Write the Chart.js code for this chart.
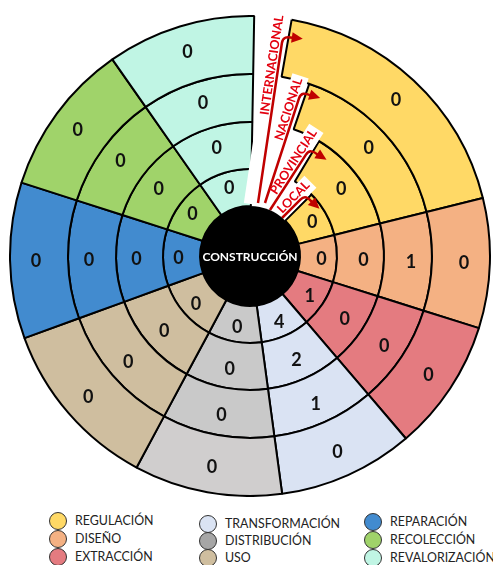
<!DOCTYPE html>
<html>
<head>
<meta charset="utf-8">
<script src="https://cdn.jsdelivr.net/npm/chart.js@4"></script>
<style>
  body { margin: 0; background: #fff; width: 493px; height: 565px; overflow: hidden; position: relative; font-family: Lato, sans-serif; }
  #wrap { position: absolute; left: 9px; top: 15px; width: 482px; height: 482px; }
  .lg { position: absolute; height: 18px; line-height: 18px; font-size: 12.4px; color: #222; white-space: nowrap; }
  .lg i { position: absolute; left: 0; top: 0; width: 18px; height: 18px; box-sizing: border-box; border: 1.5px solid #333; border-radius: 50%; }
  .lg span { position: absolute; left: 26px; top: 0; }
</style>
</head>
<body>
<div id="wrap"><canvas id="c" width="482" height="482"></canvas></div>
<div id="legend"></div>
<script>
// categorias (sectores) y anillos
const categories = ['REGULACIÓN', 'DISEÑO', 'EXTRACCIÓN', 'TRANSFORMACIÓN', 'DISTRIBUCIÓN', 'USO', 'REPARACIÓN', 'RECOLECCIÓN', 'REVALORIZACIÓN'];
const rings = ['LOCAL', 'PROVINCIAL', 'NACIONAL', 'INTERNACIONAL'];
const centerLabel = 'CONSTRUCCIÓN';

// valores por anillo, en el orden de categories
const local         = [0, 0, 1, 4, 0, 0, 0, 0, 0];
const provincial    = [0, 0, 0, 2, 0, 0, 0, 0, 0];
const nacional      = [0, 1, 0, 1, 0, 0, 0, 0, 0];
const internacional = [0, 0, 0, 0, 0, 0, 0, 0, 0];
const values = { LOCAL: local, PROVINCIAL: provincial, NACIONAL: nacional, INTERNACIONAL: internacional };

// colores
const colors = ['#FFD966', '#F4B183', '#E47B80', '#DAE3F3', '#C9C9C9', '#CFBE9F', '#428BCF', '#A0D36A', '#C0F5E4'];
const legendColors = ['#FFD966', '#F4B183', '#E47B80', '#DAE3F3', '#A6A6A6', '#CFBE9F', '#428BCF', '#A0D36A', '#C0F5E4'];

// geometria: fin de cada sector (grados desde arriba, sentido horario), hueco blanco por anillo
const startDeg = 1;
const sectorEnd = [76, 107.5, 139.5, 172.3, 208.2, 250, 287.8, 325, 361];
const gapEnd = { LOCAL: 45, PROVINCIAL: 31, NACIONAL: 19, INTERNACIONAL: 10 };
const ringWidth = { LOCAL: 37, PROVINCIAL: 47, NACIONAL: 48, INTERNACIONAL: 58 };

function spansFor(ring) {
  const out = [gapEnd[ring] - startDeg];
  let prev = gapEnd[ring];
  sectorEnd.forEach(e => { out.push(e - prev); prev = e; });
  return out;
}

// anillo exterior primero
const datasets = rings.slice().reverse().map(ring => {
  const bg = ['rgba(255,255,255,0)'].concat(colors);
  if (ring === 'INTERNACIONAL') bg[5] = '#D0CECE';
  return {
    label: ring,
    data: spansFor(ring),
    weight: ringWidth[ring],
    backgroundColor: bg,
    borderColor: '#000',
    borderWidth: [0].concat(categories.map(() => 2)),
    hoverOffset: 0,
    offset: 0
  };
});

// etiquetas de anillo (flechas rojas)
const ringArrows = [
  { ring: 'INTERNACIONAL', sx: 8,  sy: -53, ang: 8.5, len: 162, t0: 88 },
  { ring: 'NACIONAL',      sx: 15, sy: -53, ang: 18,  len: 110, t0: 64 },
  { ring: 'PROVINCIAL',    sx: 20, sy: -46, ang: 33,  len: 66,  t0: 16 },
  { ring: 'LOCAL',         sx: 32, sy: -38, ang: 45,  len: 26,  t0: 3 }
];

const overlay = {
  id: 'overlay',
  afterDatasetsDraw(chart) {
    const ctx = chart.ctx;
    const meta0 = chart.getDatasetMeta(0);
    const cx = meta0.data[1].x, cy = meta0.data[1].y;

    // numeros de cada celda
    ctx.save();
    ctx.font = 'bold 18px Lato';
    ctx.fillStyle = '#111';
    ctx.textAlign = 'center';
    ctx.textBaseline = 'middle';
    chart.data.datasets.forEach((ds, di) => {
      const meta = chart.getDatasetMeta(di);
      const vals = values[ds.label];
      vals.forEach((v, j) => {
        const arc = meta.data[j + 1];
        const p = arc.getProps(['startAngle', 'endAngle', 'innerRadius', 'outerRadius']);
        const a = (p.startAngle + p.endAngle) / 2;
        const r = (p.innerRadius + p.outerRadius) / 2 + 3;
        ctx.fillText(String(v), cx + r * Math.cos(a), cy + r * Math.sin(a) + 1);
      });
    });
    ctx.restore();

    // tiras blancas
    ctx.save();
    ctx.font = 'bold 12.5px Lato';
    ringArrows.forEach(l => {
      const tw = ctx.measureText(l.ring).width;
      ctx.save();
      ctx.translate(cx + l.sx, cy + l.sy);
      ctx.rotate((l.ang - 90) * Math.PI / 180);
      ctx.fillStyle = '#fff';
      ctx.fillRect(-2, -14, Math.max(l.len + 4, l.t0 + tw + 3) + 2, 17);
      ctx.restore();
    });
    // texto, linea y flecha
    ringArrows.forEach(l => {
      ctx.save();
      ctx.translate(cx + l.sx, cy + l.sy);
      ctx.rotate((l.ang - 90) * Math.PI / 180);
      ctx.fillStyle = '#E3000F';
      ctx.textBaseline = 'alphabetic';
      ctx.textAlign = 'left';
      ctx.fillText(l.ring, l.t0, -2.5);
      ctx.strokeStyle = '#C00000';
      ctx.fillStyle = '#C00000';
      ctx.lineWidth = 2.5;
      ctx.beginPath();
      ctx.moveTo(0, 0);
      ctx.lineTo(l.len, 0);
      ctx.bezierCurveTo(l.len + 6, 0, l.len + 7, 4, l.len + 6.5, 10);
      ctx.stroke();
      ctx.beginPath();
      ctx.moveTo(l.len + 7, 20);
      ctx.lineTo(l.len + 1.5, 9);
      ctx.lineTo(l.len + 12, 9);
      ctx.closePath();
      ctx.fill();
      ctx.restore();
    });
    ctx.restore();

    // circulo central
    ctx.save();
    ctx.beginPath();
    ctx.arc(cx, cy, 50, 0, Math.PI * 2);
    ctx.fillStyle = '#000';
    ctx.fill();
    ctx.font = 'bold 12px Lato';
    ctx.fillStyle = '#fff';
    ctx.textAlign = 'center';
    ctx.textBaseline = 'middle';
    ctx.fillText(centerLabel, cx, cy + 1);
    ctx.restore();
  }
};

new Chart(document.getElementById('c'), {
  type: 'doughnut',
  data: { labels: ['hueco'].concat(categories), datasets },
  options: {
    responsive: false,
    animation: false,
    events: [],
    rotation: startDeg,
    cutout: 50,
    layout: { padding: 0 },
    plugins: { legend: { display: false }, tooltip: { enabled: false } }
  },
  plugins: [overlay]
});

// leyenda en 3 columnas
const legendCols = [{ x: 49, tops: [512, 530, 548] }, { x: 199, tops: [515, 532, 549] }, { x: 364, tops: [513, 531, 549] }];
const legend = document.getElementById('legend');
categories.forEach((name, i) => {
  const col = legendCols[Math.floor(i / 3)];
  const d = document.createElement('div');
  d.className = 'lg';
  d.style.left = col.x + 'px';
  d.style.top = col.tops[i % 3] + 'px';
  d.innerHTML = '<i style="background:' + legendColors[i] + '"></i><span>' + name + '</span>';
  legend.appendChild(d);
});
</script>
</body>
</html>
